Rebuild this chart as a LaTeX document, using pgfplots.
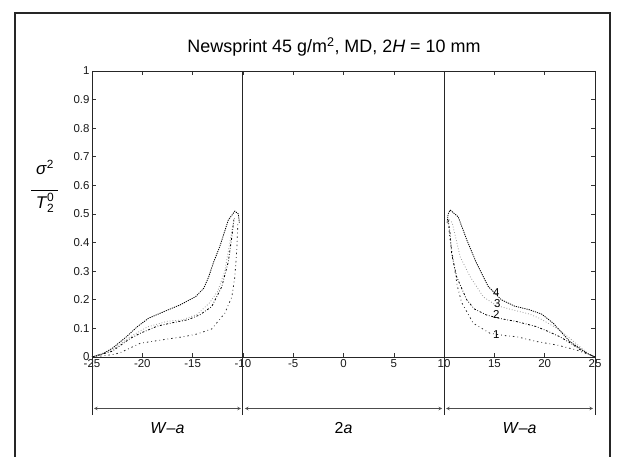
\documentclass[border=0pt]{standalone}
\usepackage{fontspec}
\setmainfont{Liberation Sans}
\usepackage{pgfplots}
\pgfplotsset{compat=1.18}
\begin{document}
\begin{tikzpicture}[x=1bp,y=1bp]
\useasboundingbox (-92,-100) rectangle (529,357);
\begin{axis}[
  at={(0,0)}, anchor=south west,
  scale only axis, width=503bp, height=286bp,
  xmin=-25, xmax=25, ymin=0, ymax=1,
  clip=false,
  axis line style={line width=0.9bp, black!85},
  xtick={-25,-20,-15,-10,-5,0,5,10,15,20,25},
  ytick={0,0.1,0.2,0.3,0.4,0.5,0.6,0.7,0.8,0.9,1},
  yticklabels={0,0.1,0.2,0.3,0.4,0.5,0.6,0.7,0.8,0.9,1},
  major tick length=4bp,
  tick style={black!80, line width=0.6bp},
  tick label style={font=\fontsize{11.5}{13}\selectfont, text=black!90},
  /pgf/number format/assume math mode=true,
  xticklabel style={yshift=1bp},
  yticklabel style={xshift=1bp},
]
% left side
\addplot[black, line width=0.8bp, dash pattern=on 1.2bp off 1bp] coordinates {
(-25,0) (-24,0.01) (-23,0.03) (-21.6,0.07) (-20.5,0.106) (-19.4,0.135) (-17.9,0.158) (-16.25,0.182) (-14.7,0.211) (-13.9,0.24) (-13.4,0.28) (-12.9,0.333) (-12.3,0.386) (-11.45,0.479) (-10.8,0.51) (-10.45,0.5) (-10.35,0.47)};
\addplot[black!40, line width=0.8bp, dotted] coordinates {
(-25,0) (-23,0.025) (-21,0.075) (-19.5,0.105) (-17.5,0.125) (-16,0.13) (-14.5,0.15) (-13.3,0.19) (-12.5,0.23) (-11.8,0.3) (-11.3,0.4) (-11,0.46) (-10.8,0.49)};
\addplot[black, line width=0.8bp, dash pattern=on 2bp off 1.8bp on 0.7bp off 1.8bp] coordinates {
(-25,0) (-23,0.02) (-21.2,0.065) (-20.2,0.083) (-18.5,0.108) (-17.25,0.118) (-15.5,0.13) (-14.3,0.147) (-13.1,0.176) (-12.1,0.246) (-11.45,0.333) (-11.1,0.42) (-10.9,0.48)};
\addplot[black!85, line width=0.8bp, dash pattern=on 1.5bp off 3bp on 0.7bp off 3bp] coordinates {
(-25,0) (-23,0.008) (-22.2,0.015) (-20.2,0.048) (-18.2,0.059) (-15.9,0.071) (-14.6,0.08) (-13.1,0.098) (-11.8,0.153) (-11.1,0.21) (-10.8,0.28) (-10.6,0.38) (-10.5,0.47)};
% right side
\addplot[black, line width=0.8bp, dash pattern=on 1.2bp off 1bp] coordinates {
(10.3,0.47) (10.4,0.5) (10.6,0.514) (11.4,0.49) (12.25,0.41) (13.2,0.33) (14.4,0.246) (15.7,0.2) (17,0.178) (18.5,0.165) (19.7,0.15) (20.85,0.118) (21.7,0.085) (22.5,0.054) (23.5,0.03) (24.2,0.013) (25,0)};
\addplot[black!40, line width=0.8bp, dotted] coordinates {
(10.5,0.48) (10.8,0.47) (11.2,0.41) (11.6,0.35) (12.6,0.28) (13.9,0.21) (15.2,0.18) (16.9,0.164) (18.5,0.15) (19.5,0.135) (20.5,0.115) (21.5,0.094) (22.5,0.065) (23.5,0.036) (24.3,0.012) (25,0)};
\addplot[black, line width=0.8bp, dash pattern=on 2bp off 1.8bp on 0.7bp off 1.8bp] coordinates {
(10.4,0.48) (10.6,0.43) (10.75,0.36) (11.25,0.28) (12.25,0.2) (13,0.168) (14.2,0.147) (15.5,0.135) (17.2,0.124) (19.2,0.106) (20.3,0.09) (21.5,0.071) (22.5,0.05) (23.5,0.026) (24.5,0.008) (25,0)};
\addplot[black!85, line width=0.8bp, dash pattern=on 1.5bp off 3bp on 0.7bp off 3bp] coordinates {
(10.4,0.47) (10.6,0.41) (10.9,0.34) (11.3,0.25) (11.75,0.19) (12.9,0.118) (14.56,0.083) (16,0.075) (17.2,0.071) (19.2,0.054) (21.2,0.042) (23.2,0.024) (24.3,0.01) (25,0)};
% curve labels
\node[font=\fontsize{11.5}{13}\selectfont, inner sep=0pt] at (axis cs:15.2,0.226) {4};
\node[font=\fontsize{11.5}{13}\selectfont, inner sep=0pt] at (axis cs:15.3,0.188) {3};
\node[font=\fontsize{11.5}{13}\selectfont, inner sep=0pt] at (axis cs:15.2,0.148) {2};
\node[font=\fontsize{11.5}{13}\selectfont, inner sep=0pt] at (axis cs:15.2,0.077) {1};
% region lines
\draw[black!85, line width=0.9bp] (axis cs:-10,-0.203) -- (axis cs:-10,1);
\draw[black!85, line width=0.9bp] (axis cs:10,-0.203) -- (axis cs:10,1);
\draw[black!85, line width=0.9bp] (axis cs:-25,-0.203) -- (axis cs:-25,0);
\draw[black!85, line width=0.9bp] (axis cs:25,-0.203) -- (axis cs:25,0);
\draw[black!70, line width=0.6bp, <->, >=stealth] (axis cs:-24.8,-0.18) -- (axis cs:-10.2,-0.18);
\draw[black!70, line width=0.6bp, <->, >=stealth] (axis cs:-9.8,-0.18) -- (axis cs:9.8,-0.18);
\draw[black!70, line width=0.6bp, <->, >=stealth] (axis cs:10.2,-0.18) -- (axis cs:24.8,-0.18);
\node[font=\fontsize{16}{19}\selectfont] at (axis cs:-17.5,-0.25) {\textit{W}–\textit{a}};
\node[font=\fontsize{16}{19}\selectfont] at (axis cs:0,-0.25) {2\textit{a}};
\node[font=\fontsize{16}{19}\selectfont] at (axis cs:17.5,-0.25) {\textit{W}–\textit{a}};
\end{axis}
\node[font=\fontsize{18}{21}\selectfont] at (242,310) {Newsprint 45 g/m\textsuperscript{2}, MD, 2\textit{H} = 10 mm};
\node[font=\fontsize{17}{20}\selectfont] at (-47,170) {\begin{tabular}{@{}c@{}}\textit{σ}\textsuperscript{2}\\[-4bp]\rule{27bp}{0.8bp}\\[-3bp]\textit{T}$_{\mbox{\fontsize{12}{13}\selectfont 2}}^{\mbox{\fontsize{12}{13}\selectfont 0}}$\end{tabular}};
\draw[black!85, line width=1.4bp] (-77,-101) -- (-77,344) -- (518,344) -- (518,-101);
\end{tikzpicture}
\end{document}
